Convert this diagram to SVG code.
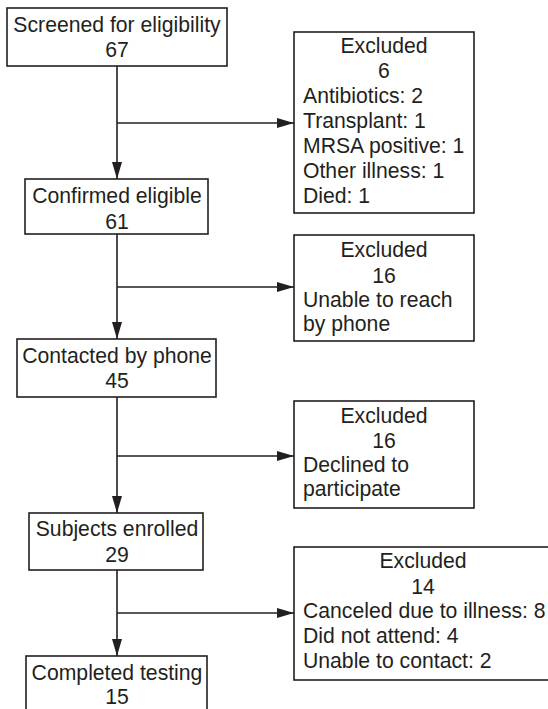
<svg xmlns="http://www.w3.org/2000/svg" width="548" height="709" viewBox="0 0 548 709">
<defs>
<style>
.box{fill:#fff;stroke:#231f20;stroke-width:1.6}
.t{font-family:"Liberation Sans",Arial,sans-serif;font-size:21.2px;fill:#231f20}
.c{text-anchor:middle}
.ln{fill:none;stroke:#231f20;stroke-width:1.6}
</style>
<marker id="ah" viewBox="0 0 17 10" refX="17" refY="5" markerWidth="17" markerHeight="10" markerUnits="userSpaceOnUse" orient="auto">
<path d="M0,0 L17,5 L0,10 Z" fill="#231f20"/>
</marker>
</defs>
<rect width="548" height="709" fill="#fff"/>
<g id="connectors">
<line class="ln" x1="117" y1="66" x2="117" y2="179" marker-end="url(#ah)"/>
<line class="ln" x1="117" y1="123" x2="294" y2="123" marker-end="url(#ah)"/>
<line class="ln" x1="117" y1="234" x2="117" y2="339" marker-end="url(#ah)"/>
<line class="ln" x1="117" y1="287" x2="294" y2="287" marker-end="url(#ah)"/>
<line class="ln" x1="117" y1="397" x2="117" y2="513" marker-end="url(#ah)"/>
<line class="ln" x1="117" y1="456" x2="294" y2="456" marker-end="url(#ah)"/>
<line class="ln" x1="117" y1="570" x2="117" y2="656" marker-end="url(#ah)"/>
<line class="ln" x1="117" y1="613" x2="294" y2="613" marker-end="url(#ah)"/>
</g>
<g id="screened">
<rect class="box" x="7" y="8" width="220" height="58"/>
<text class="t c" x="117" y="32">Screened for eligibility</text>
<text class="t c" x="117" y="57">67</text>
</g>
<g id="excluded1">
<rect class="box" x="294" y="32" width="180" height="181"/>
<text class="t c" x="384" y="53">Excluded</text>
<text class="t c" x="384" y="78">6</text>
<text class="t" x="303" y="103">Antibiotics: 2</text>
<text class="t" x="303" y="128">Transplant: 1</text>
<text class="t" x="303" y="153">MRSA positive: 1</text>
<text class="t" x="303" y="178">Other illness: 1</text>
<text class="t" x="303" y="203">Died: 1</text>
</g>
<g id="confirmed">
<rect class="box" x="25" y="179" width="183" height="55"/>
<text class="t c" x="117" y="203">Confirmed eligible</text>
<text class="t c" x="117" y="229">61</text>
</g>
<g id="excluded2">
<rect class="box" x="294" y="235" width="180" height="106"/>
<text class="t c" x="384" y="257">Excluded</text>
<text class="t c" x="384" y="283">16</text>
<text class="t" x="303" y="307">Unable to reach</text>
<text class="t" x="303" y="331">by phone</text>
</g>
<g id="contacted">
<rect class="box" x="17" y="339" width="199" height="58"/>
<text class="t c" x="117" y="363">Contacted by phone</text>
<text class="t c" x="117" y="388">45</text>
</g>
<g id="excluded3">
<rect class="box" x="294" y="401" width="180" height="107"/>
<text class="t c" x="384" y="423">Excluded</text>
<text class="t c" x="384" y="448">16</text>
<text class="t" x="303" y="472">Declined to</text>
<text class="t" x="303" y="496">participate</text>
</g>
<g id="enrolled">
<rect class="box" x="29" y="513" width="174" height="57"/>
<text class="t c" x="117" y="536">Subjects enrolled</text>
<text class="t c" x="117" y="562">29</text>
</g>
<g id="excluded4">
<rect class="box" x="294" y="547" width="260" height="133"/>
<text class="t c" x="423" y="568">Excluded</text>
<text class="t c" x="423" y="594">14</text>
<text class="t" x="303" y="618">Canceled due to illness: 8</text>
<text class="t" x="303" y="643">Did not attend: 4</text>
<text class="t" x="303" y="668">Unable to contact: 2</text>
</g>
<g id="completed">
<rect class="box" x="26" y="656" width="181" height="60"/>
<text class="t c" x="117" y="680">Completed testing</text>
<text class="t c" x="117" y="704">15</text>
</g>
</svg>
